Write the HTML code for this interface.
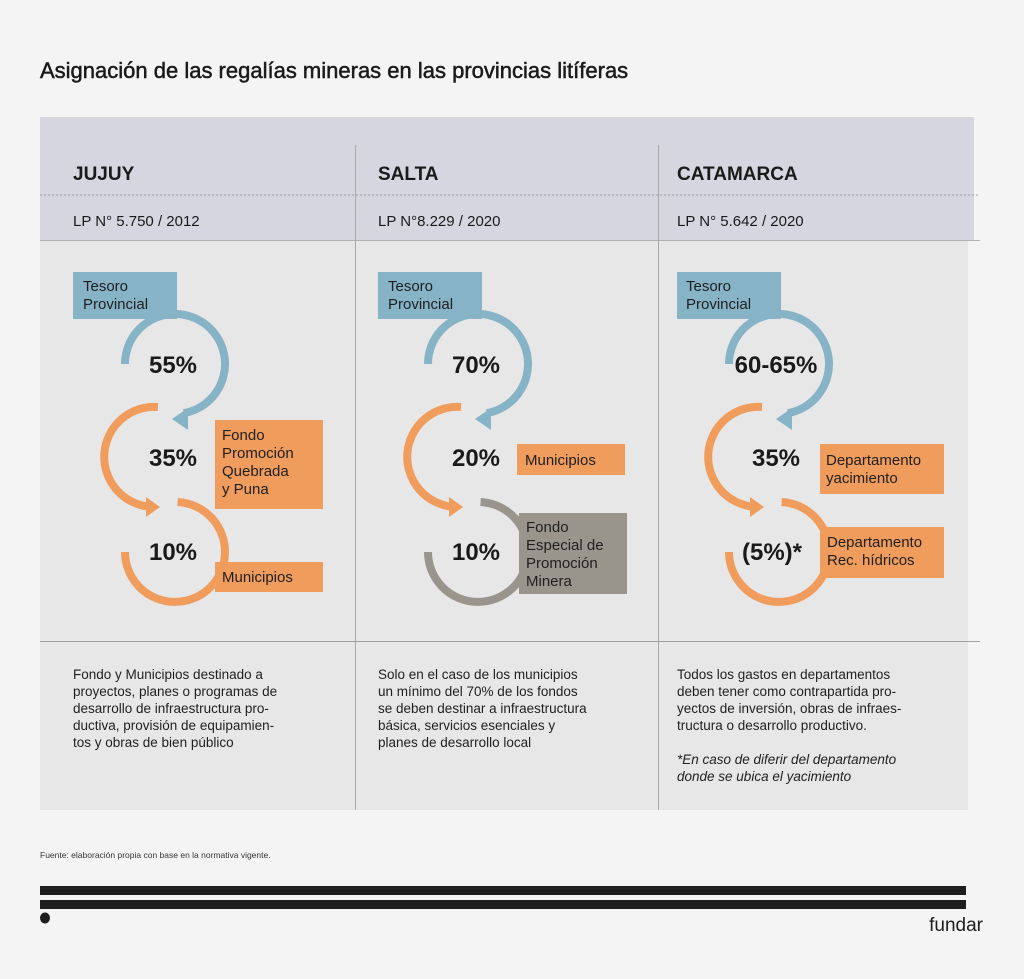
<!DOCTYPE html>
<html><head><meta charset="utf-8"><style>
body{margin:0;background:#f4f4f4;}
svg{display:block;font-family:"Liberation Sans",sans-serif;}
</style></head><body>
<svg width="1024" height="979" viewBox="0 0 1024 979" xmlns="http://www.w3.org/2000/svg">
<rect width="1024" height="979" fill="#f4f4f4"/>
<text x="40" y="78" font-size="22" fill="#1a1a1a" stroke="#1a1a1a" stroke-width="0.5">Asignación de las regalías mineras en las provincias litíferas</text>
<rect x="40" y="117" width="934" height="123" fill="#d6d6e0"/>
<rect x="40" y="240" width="928" height="570" fill="#e7e7e7"/>
<line x1="40" y1="195" x2="980" y2="195" stroke="#9a9aa4" stroke-dasharray="2,2"/>
<line x1="40" y1="240.5" x2="980" y2="240.5" stroke="#b0b0b0"/>
<line x1="40" y1="641.5" x2="980" y2="641.5" stroke="#a0a0a0"/>
<line x1="355.5" y1="145" x2="355.5" y2="810" stroke="#a8a8a8"/>
<line x1="658.5" y1="145" x2="658.5" y2="810" stroke="#a8a8a8"/>
<g font-weight="bold" font-size="19" fill="#1a1a1a">
<text x="73" y="180">JUJUY</text><text x="378" y="180">SALTA</text><text x="677" y="180">CATAMARCA</text></g>
<g font-size="15" fill="#1a1a1a">
<text x="73" y="226">LP N° 5.750 / 2012</text><text x="378" y="226">LP N°8.229 / 2020</text><text x="677" y="226">LP N° 5.642 / 2020</text></g>

<defs>
<g id="a1"><path d="M125,364 A50,50 0 1 1 183.7,413.2" fill="none" stroke="#86b3c5" stroke-width="8"/><polygon points="172,419 188,408 188,430" fill="#86b3c5"/></g>
<g id="a2"><path d="M158,407 A50,50 0 1 0 150.6,506.8" fill="none" stroke="#f09c5c" stroke-width="8"/><polygon points="160,507 146,497 146,517" fill="#f09c5c"/></g>
</defs>
<g>
<use href="#a1"/><use href="#a2"/>
<path d="M177.6,502 A50,50 0 1 1 125,552" fill="none" stroke="#f09c5c" stroke-width="8"/>
</g>
<g transform="translate(303,0)">
<use href="#a1"/><use href="#a2"/>
<path d="M177.6,502 A50,50 0 1 1 125,552" fill="none" stroke="#99958d" stroke-width="8"/>
</g>
<g transform="translate(604,0)">
<use href="#a1"/><use href="#a2"/>
<path d="M177.6,502 A50,50 0 1 1 125,552" fill="none" stroke="#f09c5c" stroke-width="8"/>
</g>

<g fill="#86b3c5"><rect x="73" y="272" width="104" height="47"/><rect x="378" y="272" width="104" height="47"/><rect x="677" y="272" width="104" height="47"/></g>
<g fill="#f09c5c"><rect x="215" y="420" width="108" height="89"/><rect x="215" y="562" width="108" height="30"/><rect x="517" y="444" width="108" height="31"/><rect x="820" y="444" width="124" height="50"/><rect x="820" y="527" width="124" height="51"/></g>
<rect x="519" y="513" width="108" height="81" fill="#99958d"/>

<g font-size="15" fill="#1f1f1f">
<text x="83" y="291">Tesoro</text><text x="83" y="309">Provincial</text>
<text x="388" y="291">Tesoro</text><text x="388" y="309">Provincial</text>
<text x="686" y="291">Tesoro</text><text x="686" y="309">Provincial</text>
<text x="222" y="440">Fondo</text><text x="222" y="458">Promoción</text><text x="222" y="476">Quebrada</text><text x="222" y="494">y Puna</text>
<text x="222" y="582">Municipios</text>
<text x="525" y="465">Municipios</text>
<text x="526" y="532">Fondo</text><text x="526" y="550">Especial de</text><text x="526" y="568">Promoción</text><text x="526" y="586">Minera</text>
<text x="826" y="465">Departamento</text><text x="826" y="483">yacimiento</text>
<text x="827" y="547">Departamento</text><text x="827" y="565">Rec. hídricos</text>
</g>
<g font-size="24" font-weight="bold" fill="#1a1a1a" text-anchor="middle">
<text x="173" y="373">55%</text><text x="173" y="466">35%</text><text x="173" y="560">10%</text>
<text x="476" y="373">70%</text><text x="476" y="466">20%</text><text x="476" y="560">10%</text>
<text x="776" y="373">60-65%</text><text x="776" y="466">35%</text><text x="772" y="560">(5%)*</text>
</g>
<g font-size="13.5" fill="#1f1f1f">
<text x="73" y="679">Fondo y Municipios destinado a</text>
<text x="73" y="696">proyectos, planes o programas de</text>
<text x="73" y="713">desarrollo de infraestructura  pro-</text>
<text x="73" y="730">ductiva, provisión de equipamien-</text>
<text x="73" y="747">tos  y obras de bien público</text>
<text x="378" y="679">Solo en el caso de los municipios</text>
<text x="378" y="696">un mínimo del 70% de los fondos</text>
<text x="378" y="713">se deben destinar a infraestructura</text>
<text x="378" y="730">básica, servicios esenciales y</text>
<text x="378" y="747">planes de desarrollo local</text>
<text x="677" y="679">Todos los gastos en departamentos</text>
<text x="677" y="696">deben tener como contrapartida pro-</text>
<text x="677" y="713">yectos de inversión, obras de infraes-</text>
<text x="677" y="730">tructura o desarrollo productivo.</text>
<text x="677" y="764" font-style="italic">*En caso de diferir del departamento</text>
<text x="677" y="781" font-style="italic">donde se ubica el yacimiento</text>
</g>
<text x="40" y="858" font-size="8.5" fill="#333">Fuente: elaboración propia con base en la normativa vigente.</text>
<rect x="40" y="886" width="926" height="9" fill="#1e1e1e"/>
<rect x="40" y="900" width="926" height="9" fill="#1e1e1e"/>
<ellipse cx="45" cy="918" rx="5" ry="5.5" fill="#1e1e1e"/>
<text x="983" y="931" font-size="19" fill="#1e1e1e" text-anchor="end">fundar</text>
</svg>
</body></html>
